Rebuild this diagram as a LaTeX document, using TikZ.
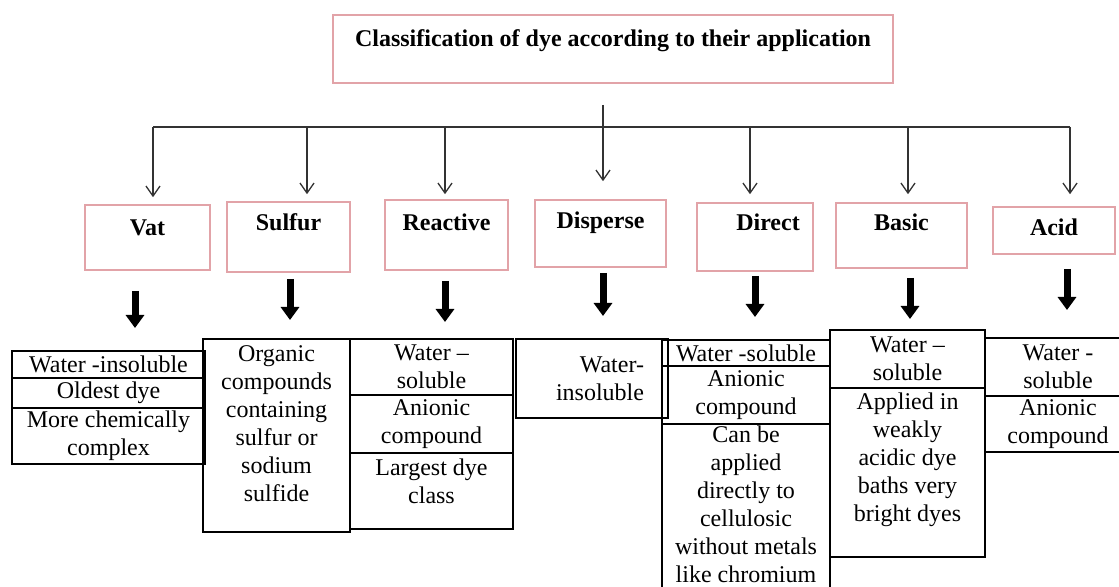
\documentclass[tikz,border=0pt]{standalone}
\usepackage{fontspec}
\setmainfont{Liberation Serif}
\usepackage{tikz}
\usetikzlibrary{arrows.meta,positioning}
\definecolor{pinkline}{HTML}{E2A3A8}
\definecolor{wire}{HTML}{333333}
\newcommand{\dn}[1]{\rule[-#1]{0pt}{#1}}

\begin{document}
\begin{tikzpicture}[
    x=0.5pt,y=-0.5pt,
    font=\fontsize{12}{14}\selectfont,
    head/.style={draw=pinkline,line width=0.8pt,minimum width=280pt,minimum height=34pt,
                 font=\fontsize{12}{14}\selectfont\bfseries},
    dye/.style={draw=pinkline,line width=0.8pt,inner sep=1pt,
                font=\fontsize{12}{14}\selectfont\bfseries},
    cell/.style={draw,line width=0.9pt,align=center,inner xsep=2pt,inner ysep=1pt,outer sep=0pt},
    arrow/.style={draw=wire,line width=0.65pt,-{Straight Barb[length=5pt,width=7pt]}},
    bigarrow/.style={line width=3.5pt,-{Triangle[width=9pt,length=6.5pt]}},
    bus/.style={draw=wire,line width=0.7pt}
  ]
    \useasboundingbox (0,0) rectangle (1119,587);
    \clip (0,0) rectangle (1119,587);

    \node[head] (title) at (613,49) {Classification of dye according to their application\dn{11pt}};

    \node[dye,minimum width=62.5pt,minimum height=32.5pt] (vat)      at (147.5,237.5) {Vat\dn{9.5pt}};
    \node[dye,minimum width=61.5pt,minimum height=35pt]   (sulfur)   at (288.5,237)   {Sulfur\dn{15pt}};
    \node[dye,minimum width=61.5pt,minimum height=35pt]   (reactive) at (446.5,235)   {Reactive\dn{13pt}};
    \node[dye,minimum width=65.5pt,minimum height=33.5pt] (disperse) at (600.5,233.5) {Disperse\dn{13.5pt}};
    \node[dye,minimum width=58pt,minimum height=34pt]     (direct)   at (755,237)     {\hspace*{13pt}Direct\dn{15pt}};
    \node[dye,minimum width=65.5pt,minimum height=32.5pt] (basic)    at (901.5,235.5) {Basic\dn{13.5pt}};
    \node[dye,minimum width=61pt,minimum height=23.5pt]   (acid)     at (1054,230.5)  {Acid\dn{3.5pt}};

    \node[cell,anchor=north west,minimum width=96.5pt,minimum height=13.5pt] (v1) at (12,351) {Water -insoluble};
    \node[cell,below=0pt of v1,minimum width=96.5pt,minimum height=15pt] (v2) {Oldest dye};
    \node[cell,below=0pt of v2,minimum width=96.5pt,minimum height=28pt] (v3) {More chemically\\complex};

    \node[cell,anchor=north west,minimum width=73.5pt,minimum height=96.5pt] (s1) at (203,339)
      {Organic\\compounds\\containing\\sulfur or\\sodium\\sulfide\dn{11.5pt}};

    \node[cell,anchor=north west,minimum width=81.5pt,minimum height=28pt] (r1) at (350,339) {Water –\\soluble};
    \node[cell,below=0pt of r1,minimum width=81.5pt,minimum height=29pt] (r2) {Anionic\\compound};
    \node[cell,below=0pt of r2,minimum width=81.5pt,minimum height=38pt] (r3) {Largest dye\\class\dn{10pt}};

    \node[cell,anchor=north west,align=right,minimum width=76pt,minimum height=39.5pt] (d1) at (516,339)
      {Water-\\\hspace*{8pt}insoluble};

    \node[cell,anchor=north west,minimum width=84pt,minimum height=13pt] (di1) at (662,340) {Water -soluble};
    \node[cell,below=0pt of di1,minimum width=84pt,minimum height=29pt] (di2) {Anionic\\compound};
    \node[cell,below=0pt of di2,minimum width=84pt] (di3)
      {Can be\\applied\\directly to\\cellulosic\\without metals\\like chromium\dn{4pt}};

    \node[cell,anchor=north west,minimum width=77.5pt,minimum height=29pt] (b1) at (830,330) {Water –\\soluble};
    \node[cell,below=0pt of b1,minimum width=77.5pt,minimum height=84.5pt] (b2)
      {Applied in\\weakly\\acidic dye\\baths very\\bright dyes\dn{15pt}};

    \node[cell,anchor=north west,minimum width=73pt,minimum height=29pt] (a1) at (985,338) {Water -\\soluble};
    \node[cell,below=0pt of a1,minimum width=73pt,minimum height=28pt] (a2) {Anionic\\compound};

    \coordinate (stem) at (603,105);
    \foreach \x/\n in {153/vat,307/sulfur,445/reactive,750/direct,908/basic,1070/acid}
      \coordinate (bus-\n) at (\x,127);
    \draw[bus] (bus-vat) -- (bus-acid);
    \draw[arrow,shorten >=9pt] (stem) -- (stem |- disperse.north);
    \foreach \n/\g in {vat/3.5,sulfur/3.5,reactive/2.5,direct/4,basic/4,acid/6}
      \draw[arrow,shorten >=\g pt] (bus-\n) -- (bus-\n |- \n.north);

    \foreach \c/\p/\dx/\sa/\sb in {vat/v1/-6.25/10/11.5,sulfur/s1/0.75/3/9.5,reactive/r1/-0.75/5/8.5,
        disperse/d1/1.25/2.5/11.5,direct/di1/0/2/11.5,basic/b1/4.25/4.5/5.5,acid/a1/6.5/7/14}{
      \coordinate (\c-out) at ([xshift=\dx pt]\c.south);
      \draw[bigarrow,shorten <=\sa pt,shorten >=\sb pt] (\c-out) -- (\c-out |- \p.north);
    }
  \end{tikzpicture}
\end{document}
